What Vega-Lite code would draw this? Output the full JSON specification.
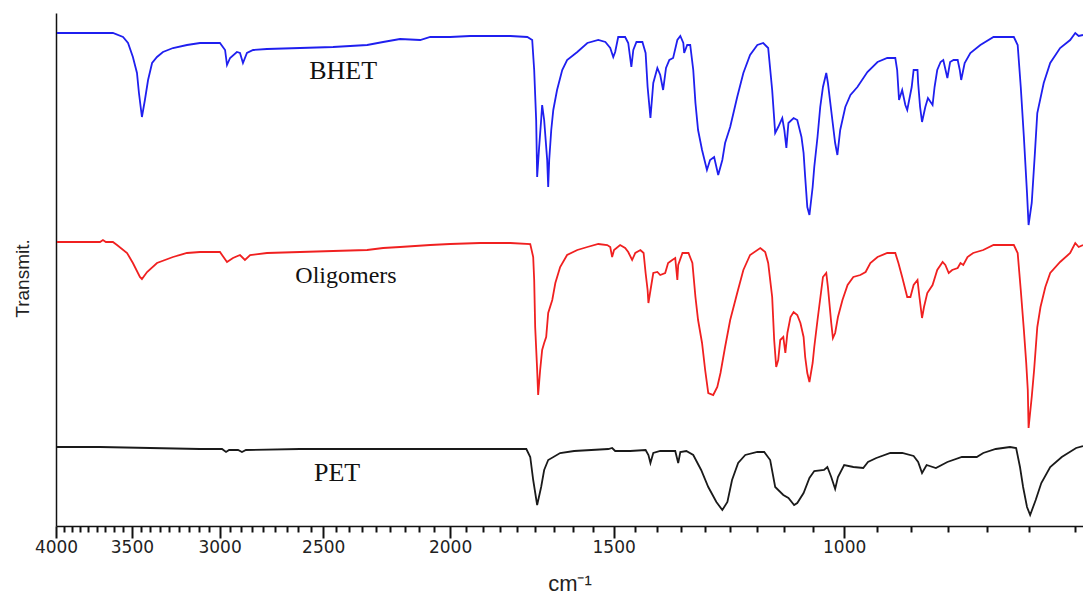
{
  "$schema": "https://vega.github.io/schema/vega-lite/v6.json",
  "width": 1027,
  "height": 513,
  "autosize": "none",
  "padding": {"left": 56, "top": 13, "right": 0, "bottom": 73},
  "background": "white",
  "config": {"view": {"stroke": null}},
  "datasets": {
    "spectra": [
      {"series":"BHET","wavenumber":3993,"transmittance":493},
      {"series":"BHET","wavenumber":3619,"transmittance":493},
      {"series":"BHET","wavenumber":3555,"transmittance":489},
      {"series":"BHET","wavenumber":3524,"transmittance":483},
      {"series":"BHET","wavenumber":3494,"transmittance":469},
      {"series":"BHET","wavenumber":3469,"transmittance":453},
      {"series":"BHET","wavenumber":3457,"transmittance":433},
      {"series":"BHET","wavenumber":3439,"transmittance":409},
      {"series":"BHET","wavenumber":3421,"transmittance":426},
      {"series":"BHET","wavenumber":3402,"transmittance":446},
      {"series":"BHET","wavenumber":3378,"transmittance":463},
      {"series":"BHET","wavenumber":3349,"transmittance":469},
      {"series":"BHET","wavenumber":3314,"transmittance":474},
      {"series":"BHET","wavenumber":3256,"transmittance":478},
      {"series":"BHET","wavenumber":3177,"transmittance":481},
      {"series":"BHET","wavenumber":3105,"transmittance":483},
      {"series":"BHET","wavenumber":2998,"transmittance":483},
      {"series":"BHET","wavenumber":2971,"transmittance":476},
      {"series":"BHET","wavenumber":2961,"transmittance":461},
      {"series":"BHET","wavenumber":2945,"transmittance":468},
      {"series":"BHET","wavenumber":2910,"transmittance":474},
      {"series":"BHET","wavenumber":2894,"transmittance":473},
      {"series":"BHET","wavenumber":2879,"transmittance":463},
      {"series":"BHET","wavenumber":2859,"transmittance":473},
      {"series":"BHET","wavenumber":2828,"transmittance":476},
      {"series":"BHET","wavenumber":2760,"transmittance":477},
      {"series":"BHET","wavenumber":2604,"transmittance":478},
      {"series":"BHET","wavenumber":2457,"transmittance":479},
      {"series":"BHET","wavenumber":2314,"transmittance":481},
      {"series":"BHET","wavenumber":2250,"transmittance":484},
      {"series":"BHET","wavenumber":2184,"transmittance":487},
      {"series":"BHET","wavenumber":2108,"transmittance":486},
      {"series":"BHET","wavenumber":2071,"transmittance":489},
      {"series":"BHET","wavenumber":2000,"transmittance":489},
      {"series":"BHET","wavenumber":1931,"transmittance":490},
      {"series":"BHET","wavenumber":1831,"transmittance":490},
      {"series":"BHET","wavenumber":1799,"transmittance":490},
      {"series":"BHET","wavenumber":1746,"transmittance":489},
      {"series":"BHET","wavenumber":1731,"transmittance":486},
      {"series":"BHET","wavenumber":1725,"transmittance":456},
      {"series":"BHET","wavenumber":1719,"transmittance":406},
      {"series":"BHET","wavenumber":1716,"transmittance":349},
      {"series":"BHET","wavenumber":1710,"transmittance":379},
      {"series":"BHET","wavenumber":1704,"transmittance":406},
      {"series":"BHET","wavenumber":1701,"transmittance":421},
      {"series":"BHET","wavenumber":1695,"transmittance":406},
      {"series":"BHET","wavenumber":1686,"transmittance":366},
      {"series":"BHET","wavenumber":1683,"transmittance":339},
      {"series":"BHET","wavenumber":1680,"transmittance":366},
      {"series":"BHET","wavenumber":1674,"transmittance":396},
      {"series":"BHET","wavenumber":1668,"transmittance":416},
      {"series":"BHET","wavenumber":1657,"transmittance":436},
      {"series":"BHET","wavenumber":1642,"transmittance":456},
      {"series":"BHET","wavenumber":1628,"transmittance":466},
      {"series":"BHET","wavenumber":1599,"transmittance":474},
      {"series":"BHET","wavenumber":1571,"transmittance":483},
      {"series":"BHET","wavenumber":1541,"transmittance":486},
      {"series":"BHET","wavenumber":1522,"transmittance":484},
      {"series":"BHET","wavenumber":1509,"transmittance":478},
      {"series":"BHET","wavenumber":1501,"transmittance":469},
      {"series":"BHET","wavenumber":1496,"transmittance":474},
      {"series":"BHET","wavenumber":1488,"transmittance":489},
      {"series":"BHET","wavenumber":1470,"transmittance":489},
      {"series":"BHET","wavenumber":1462,"transmittance":483},
      {"series":"BHET","wavenumber":1454,"transmittance":459},
      {"series":"BHET","wavenumber":1449,"transmittance":476},
      {"series":"BHET","wavenumber":1441,"transmittance":484},
      {"series":"BHET","wavenumber":1426,"transmittance":484},
      {"series":"BHET","wavenumber":1418,"transmittance":473},
      {"series":"BHET","wavenumber":1413,"transmittance":439},
      {"series":"BHET","wavenumber":1406,"transmittance":408},
      {"series":"BHET","wavenumber":1399,"transmittance":443},
      {"series":"BHET","wavenumber":1389,"transmittance":458},
      {"series":"BHET","wavenumber":1382,"transmittance":451},
      {"series":"BHET","wavenumber":1375,"transmittance":436},
      {"series":"BHET","wavenumber":1368,"transmittance":458},
      {"series":"BHET","wavenumber":1360,"transmittance":466},
      {"series":"BHET","wavenumber":1351,"transmittance":468},
      {"series":"BHET","wavenumber":1341,"transmittance":486},
      {"series":"BHET","wavenumber":1334,"transmittance":490},
      {"series":"BHET","wavenumber":1327,"transmittance":483},
      {"series":"BHET","wavenumber":1325,"transmittance":473},
      {"series":"BHET","wavenumber":1318,"transmittance":481},
      {"series":"BHET","wavenumber":1311,"transmittance":481},
      {"series":"BHET","wavenumber":1304,"transmittance":456},
      {"series":"BHET","wavenumber":1299,"transmittance":423},
      {"series":"BHET","wavenumber":1293,"transmittance":396},
      {"series":"BHET","wavenumber":1284,"transmittance":376},
      {"series":"BHET","wavenumber":1273,"transmittance":356},
      {"series":"BHET","wavenumber":1266,"transmittance":366},
      {"series":"BHET","wavenumber":1257,"transmittance":369},
      {"series":"BHET","wavenumber":1248,"transmittance":351},
      {"series":"BHET","wavenumber":1239,"transmittance":366},
      {"series":"BHET","wavenumber":1233,"transmittance":383},
      {"series":"BHET","wavenumber":1222,"transmittance":399},
      {"series":"BHET","wavenumber":1207,"transmittance":429},
      {"series":"BHET","wavenumber":1194,"transmittance":453},
      {"series":"BHET","wavenumber":1180,"transmittance":471},
      {"series":"BHET","wavenumber":1165,"transmittance":481},
      {"series":"BHET","wavenumber":1153,"transmittance":483},
      {"series":"BHET","wavenumber":1143,"transmittance":478},
      {"series":"BHET","wavenumber":1135,"transmittance":436},
      {"series":"BHET","wavenumber":1129,"transmittance":393},
      {"series":"BHET","wavenumber":1123,"transmittance":399},
      {"series":"BHET","wavenumber":1115,"transmittance":408},
      {"series":"BHET","wavenumber":1111,"transmittance":396},
      {"series":"BHET","wavenumber":1107,"transmittance":378},
      {"series":"BHET","wavenumber":1103,"transmittance":403},
      {"series":"BHET","wavenumber":1093,"transmittance":408},
      {"series":"BHET","wavenumber":1086,"transmittance":406},
      {"series":"BHET","wavenumber":1078,"transmittance":389},
      {"series":"BHET","wavenumber":1074,"transmittance":373},
      {"series":"BHET","wavenumber":1071,"transmittance":349},
      {"series":"BHET","wavenumber":1067,"transmittance":319},
      {"series":"BHET","wavenumber":1063,"transmittance":311},
      {"series":"BHET","wavenumber":1057,"transmittance":339},
      {"series":"BHET","wavenumber":1054,"transmittance":359},
      {"series":"BHET","wavenumber":1048,"transmittance":389},
      {"series":"BHET","wavenumber":1043,"transmittance":419},
      {"series":"BHET","wavenumber":1038,"transmittance":439},
      {"series":"BHET","wavenumber":1032,"transmittance":453},
      {"series":"BHET","wavenumber":1029,"transmittance":443},
      {"series":"BHET","wavenumber":1021,"transmittance":406},
      {"series":"BHET","wavenumber":1016,"transmittance":383},
      {"series":"BHET","wavenumber":1012,"transmittance":371},
      {"series":"BHET","wavenumber":1007,"transmittance":396},
      {"series":"BHET","wavenumber":998,"transmittance":419},
      {"series":"BHET","wavenumber":989,"transmittance":431},
      {"series":"BHET","wavenumber":977,"transmittance":439},
      {"series":"BHET","wavenumber":960,"transmittance":454},
      {"series":"BHET","wavenumber":943,"transmittance":464},
      {"series":"BHET","wavenumber":927,"transmittance":468},
      {"series":"BHET","wavenumber":914,"transmittance":468},
      {"series":"BHET","wavenumber":911,"transmittance":456},
      {"series":"BHET","wavenumber":908,"transmittance":426},
      {"series":"BHET","wavenumber":903,"transmittance":436},
      {"series":"BHET","wavenumber":898,"transmittance":421},
      {"series":"BHET","wavenumber":895,"transmittance":416},
      {"series":"BHET","wavenumber":888,"transmittance":439},
      {"series":"BHET","wavenumber":885,"transmittance":456},
      {"series":"BHET","wavenumber":879,"transmittance":456},
      {"series":"BHET","wavenumber":878,"transmittance":443},
      {"series":"BHET","wavenumber":875,"transmittance":419},
      {"series":"BHET","wavenumber":872,"transmittance":404},
      {"series":"BHET","wavenumber":867,"transmittance":419},
      {"series":"BHET","wavenumber":863,"transmittance":428},
      {"series":"BHET","wavenumber":856,"transmittance":421},
      {"series":"BHET","wavenumber":853,"transmittance":439},
      {"series":"BHET","wavenumber":849,"transmittance":456},
      {"series":"BHET","wavenumber":844,"transmittance":464},
      {"series":"BHET","wavenumber":840,"transmittance":466},
      {"series":"BHET","wavenumber":834,"transmittance":448},
      {"series":"BHET","wavenumber":830,"transmittance":464},
      {"series":"BHET","wavenumber":825,"transmittance":466},
      {"series":"BHET","wavenumber":819,"transmittance":466},
      {"series":"BHET","wavenumber":816,"transmittance":456},
      {"series":"BHET","wavenumber":814,"transmittance":446},
      {"series":"BHET","wavenumber":809,"transmittance":463},
      {"series":"BHET","wavenumber":801,"transmittance":473},
      {"series":"BHET","wavenumber":787,"transmittance":481},
      {"series":"BHET","wavenumber":769,"transmittance":489},
      {"series":"BHET","wavenumber":742,"transmittance":489},
      {"series":"BHET","wavenumber":737,"transmittance":481},
      {"series":"BHET","wavenumber":733,"transmittance":439},
      {"series":"BHET","wavenumber":729,"transmittance":389},
      {"series":"BHET","wavenumber":725,"transmittance":333},
      {"series":"BHET","wavenumber":723,"transmittance":301},
      {"series":"BHET","wavenumber":719,"transmittance":323},
      {"series":"BHET","wavenumber":715,"transmittance":373},
      {"series":"BHET","wavenumber":712,"transmittance":413},
      {"series":"BHET","wavenumber":704,"transmittance":443},
      {"series":"BHET","wavenumber":696,"transmittance":463},
      {"series":"BHET","wavenumber":684,"transmittance":478},
      {"series":"BHET","wavenumber":672,"transmittance":486},
      {"series":"BHET","wavenumber":666,"transmittance":493},
      {"series":"BHET","wavenumber":662,"transmittance":490},
      {"series":"BHET","wavenumber":657,"transmittance":491},

      {"series":"Oligomers","wavenumber":3993,"transmittance":284},
      {"series":"Oligomers","wavenumber":3702,"transmittance":284},
      {"series":"Oligomers","wavenumber":3683,"transmittance":286},
      {"series":"Oligomers","wavenumber":3664,"transmittance":284},
      {"series":"Oligomers","wavenumber":3619,"transmittance":284},
      {"series":"Oligomers","wavenumber":3593,"transmittance":281},
      {"series":"Oligomers","wavenumber":3530,"transmittance":273},
      {"series":"Oligomers","wavenumber":3494,"transmittance":263},
      {"series":"Oligomers","wavenumber":3451,"transmittance":249},
      {"series":"Oligomers","wavenumber":3439,"transmittance":247},
      {"series":"Oligomers","wavenumber":3408,"transmittance":254},
      {"series":"Oligomers","wavenumber":3349,"transmittance":263},
      {"series":"Oligomers","wavenumber":3256,"transmittance":269},
      {"series":"Oligomers","wavenumber":3177,"transmittance":273},
      {"series":"Oligomers","wavenumber":3105,"transmittance":274},
      {"series":"Oligomers","wavenumber":2998,"transmittance":274},
      {"series":"Oligomers","wavenumber":2961,"transmittance":264},
      {"series":"Oligomers","wavenumber":2930,"transmittance":268},
      {"series":"Oligomers","wavenumber":2894,"transmittance":271},
      {"series":"Oligomers","wavenumber":2869,"transmittance":266},
      {"series":"Oligomers","wavenumber":2843,"transmittance":271},
      {"series":"Oligomers","wavenumber":2760,"transmittance":273},
      {"series":"Oligomers","wavenumber":2604,"transmittance":274},
      {"series":"Oligomers","wavenumber":2457,"transmittance":275},
      {"series":"Oligomers","wavenumber":2314,"transmittance":276},
      {"series":"Oligomers","wavenumber":2250,"transmittance":278},
      {"series":"Oligomers","wavenumber":2184,"transmittance":279},
      {"series":"Oligomers","wavenumber":2071,"transmittance":281},
      {"series":"Oligomers","wavenumber":2000,"transmittance":282},
      {"series":"Oligomers","wavenumber":1897,"transmittance":283},
      {"series":"Oligomers","wavenumber":1799,"transmittance":283},
      {"series":"Oligomers","wavenumber":1737,"transmittance":282},
      {"series":"Oligomers","wavenumber":1728,"transmittance":269},
      {"series":"Oligomers","wavenumber":1725,"transmittance":246},
      {"series":"Oligomers","wavenumber":1722,"transmittance":199},
      {"series":"Oligomers","wavenumber":1716,"transmittance":156},
      {"series":"Oligomers","wavenumber":1713,"transmittance":131},
      {"series":"Oligomers","wavenumber":1707,"transmittance":156},
      {"series":"Oligomers","wavenumber":1701,"transmittance":176},
      {"series":"Oligomers","wavenumber":1695,"transmittance":183},
      {"series":"Oligomers","wavenumber":1689,"transmittance":189},
      {"series":"Oligomers","wavenumber":1683,"transmittance":213},
      {"series":"Oligomers","wavenumber":1671,"transmittance":226},
      {"series":"Oligomers","wavenumber":1662,"transmittance":243},
      {"series":"Oligomers","wavenumber":1648,"transmittance":259},
      {"series":"Oligomers","wavenumber":1628,"transmittance":271},
      {"series":"Oligomers","wavenumber":1599,"transmittance":276},
      {"series":"Oligomers","wavenumber":1571,"transmittance":279},
      {"series":"Oligomers","wavenumber":1541,"transmittance":282},
      {"series":"Oligomers","wavenumber":1517,"transmittance":281},
      {"series":"Oligomers","wavenumber":1509,"transmittance":279},
      {"series":"Oligomers","wavenumber":1504,"transmittance":269},
      {"series":"Oligomers","wavenumber":1499,"transmittance":276},
      {"series":"Oligomers","wavenumber":1483,"transmittance":281},
      {"series":"Oligomers","wavenumber":1470,"transmittance":278},
      {"series":"Oligomers","wavenumber":1462,"transmittance":274},
      {"series":"Oligomers","wavenumber":1452,"transmittance":266},
      {"series":"Oligomers","wavenumber":1444,"transmittance":273},
      {"series":"Oligomers","wavenumber":1431,"transmittance":276},
      {"series":"Oligomers","wavenumber":1423,"transmittance":273},
      {"series":"Oligomers","wavenumber":1418,"transmittance":253},
      {"series":"Oligomers","wavenumber":1413,"transmittance":236},
      {"series":"Oligomers","wavenumber":1411,"transmittance":223},
      {"series":"Oligomers","wavenumber":1403,"transmittance":243},
      {"series":"Oligomers","wavenumber":1399,"transmittance":253},
      {"series":"Oligomers","wavenumber":1389,"transmittance":254},
      {"series":"Oligomers","wavenumber":1382,"transmittance":251},
      {"series":"Oligomers","wavenumber":1370,"transmittance":253},
      {"series":"Oligomers","wavenumber":1363,"transmittance":263},
      {"series":"Oligomers","wavenumber":1353,"transmittance":266},
      {"series":"Oligomers","wavenumber":1346,"transmittance":268},
      {"series":"Oligomers","wavenumber":1341,"transmittance":246},
      {"series":"Oligomers","wavenumber":1339,"transmittance":261},
      {"series":"Oligomers","wavenumber":1329,"transmittance":273},
      {"series":"Oligomers","wavenumber":1315,"transmittance":273},
      {"series":"Oligomers","wavenumber":1306,"transmittance":263},
      {"series":"Oligomers","wavenumber":1299,"transmittance":229},
      {"series":"Oligomers","wavenumber":1293,"transmittance":206},
      {"series":"Oligomers","wavenumber":1284,"transmittance":183},
      {"series":"Oligomers","wavenumber":1277,"transmittance":156},
      {"series":"Oligomers","wavenumber":1270,"transmittance":133},
      {"series":"Oligomers","wavenumber":1259,"transmittance":131},
      {"series":"Oligomers","wavenumber":1250,"transmittance":139},
      {"series":"Oligomers","wavenumber":1243,"transmittance":153},
      {"series":"Oligomers","wavenumber":1233,"transmittance":179},
      {"series":"Oligomers","wavenumber":1222,"transmittance":206},
      {"series":"Oligomers","wavenumber":1207,"transmittance":233},
      {"series":"Oligomers","wavenumber":1194,"transmittance":256},
      {"series":"Oligomers","wavenumber":1180,"transmittance":271},
      {"series":"Oligomers","wavenumber":1159,"transmittance":278},
      {"series":"Oligomers","wavenumber":1149,"transmittance":274},
      {"series":"Oligomers","wavenumber":1143,"transmittance":263},
      {"series":"Oligomers","wavenumber":1135,"transmittance":229},
      {"series":"Oligomers","wavenumber":1131,"transmittance":186},
      {"series":"Oligomers","wavenumber":1127,"transmittance":159},
      {"series":"Oligomers","wavenumber":1123,"transmittance":166},
      {"series":"Oligomers","wavenumber":1119,"transmittance":186},
      {"series":"Oligomers","wavenumber":1113,"transmittance":189},
      {"series":"Oligomers","wavenumber":1109,"transmittance":173},
      {"series":"Oligomers","wavenumber":1105,"transmittance":193},
      {"series":"Oligomers","wavenumber":1099,"transmittance":209},
      {"series":"Oligomers","wavenumber":1093,"transmittance":214},
      {"series":"Oligomers","wavenumber":1086,"transmittance":211},
      {"series":"Oligomers","wavenumber":1080,"transmittance":203},
      {"series":"Oligomers","wavenumber":1074,"transmittance":189},
      {"series":"Oligomers","wavenumber":1071,"transmittance":169},
      {"series":"Oligomers","wavenumber":1067,"transmittance":153},
      {"series":"Oligomers","wavenumber":1063,"transmittance":144},
      {"series":"Oligomers","wavenumber":1057,"transmittance":163},
      {"series":"Oligomers","wavenumber":1054,"transmittance":179},
      {"series":"Oligomers","wavenumber":1048,"transmittance":206},
      {"series":"Oligomers","wavenumber":1041,"transmittance":236},
      {"series":"Oligomers","wavenumber":1038,"transmittance":249},
      {"series":"Oligomers","wavenumber":1032,"transmittance":253},
      {"series":"Oligomers","wavenumber":1029,"transmittance":239},
      {"series":"Oligomers","wavenumber":1023,"transmittance":203},
      {"series":"Oligomers","wavenumber":1020,"transmittance":188},
      {"series":"Oligomers","wavenumber":1016,"transmittance":193},
      {"series":"Oligomers","wavenumber":1011,"transmittance":209},
      {"series":"Oligomers","wavenumber":1003,"transmittance":226},
      {"series":"Oligomers","wavenumber":994,"transmittance":241},
      {"series":"Oligomers","wavenumber":984,"transmittance":249},
      {"series":"Oligomers","wavenumber":972,"transmittance":251},
      {"series":"Oligomers","wavenumber":963,"transmittance":254},
      {"series":"Oligomers","wavenumber":955,"transmittance":263},
      {"series":"Oligomers","wavenumber":943,"transmittance":269},
      {"series":"Oligomers","wavenumber":927,"transmittance":273},
      {"series":"Oligomers","wavenumber":914,"transmittance":273},
      {"series":"Oligomers","wavenumber":909,"transmittance":263},
      {"series":"Oligomers","wavenumber":903,"transmittance":249},
      {"series":"Oligomers","wavenumber":895,"transmittance":229},
      {"series":"Oligomers","wavenumber":890,"transmittance":229},
      {"series":"Oligomers","wavenumber":885,"transmittance":241},
      {"series":"Oligomers","wavenumber":879,"transmittance":246},
      {"series":"Oligomers","wavenumber":876,"transmittance":229},
      {"series":"Oligomers","wavenumber":872,"transmittance":208},
      {"series":"Oligomers","wavenumber":869,"transmittance":219},
      {"series":"Oligomers","wavenumber":864,"transmittance":233},
      {"series":"Oligomers","wavenumber":856,"transmittance":241},
      {"series":"Oligomers","wavenumber":849,"transmittance":256},
      {"series":"Oligomers","wavenumber":841,"transmittance":264},
      {"series":"Oligomers","wavenumber":837,"transmittance":261},
      {"series":"Oligomers","wavenumber":832,"transmittance":253},
      {"series":"Oligomers","wavenumber":827,"transmittance":256},
      {"series":"Oligomers","wavenumber":819,"transmittance":258},
      {"series":"Oligomers","wavenumber":815,"transmittance":263},
      {"series":"Oligomers","wavenumber":811,"transmittance":261},
      {"series":"Oligomers","wavenumber":805,"transmittance":269},
      {"series":"Oligomers","wavenumber":797,"transmittance":273},
      {"series":"Oligomers","wavenumber":783,"transmittance":276},
      {"series":"Oligomers","wavenumber":769,"transmittance":281},
      {"series":"Oligomers","wavenumber":742,"transmittance":281},
      {"series":"Oligomers","wavenumber":737,"transmittance":273},
      {"series":"Oligomers","wavenumber":733,"transmittance":236},
      {"series":"Oligomers","wavenumber":729,"transmittance":196},
      {"series":"Oligomers","wavenumber":726,"transmittance":163},
      {"series":"Oligomers","wavenumber":724,"transmittance":136},
      {"series":"Oligomers","wavenumber":723,"transmittance":98},
      {"series":"Oligomers","wavenumber":719,"transmittance":129},
      {"series":"Oligomers","wavenumber":716,"transmittance":156},
      {"series":"Oligomers","wavenumber":712,"transmittance":199},
      {"series":"Oligomers","wavenumber":708,"transmittance":219},
      {"series":"Oligomers","wavenumber":702,"transmittance":239},
      {"series":"Oligomers","wavenumber":696,"transmittance":253},
      {"series":"Oligomers","wavenumber":684,"transmittance":264},
      {"series":"Oligomers","wavenumber":672,"transmittance":273},
      {"series":"Oligomers","wavenumber":666,"transmittance":283},
      {"series":"Oligomers","wavenumber":662,"transmittance":279},
      {"series":"Oligomers","wavenumber":657,"transmittance":281},

      {"series":"PET","wavenumber":3993,"transmittance":79},
      {"series":"PET","wavenumber":3702,"transmittance":79},
      {"series":"PET","wavenumber":3390,"transmittance":78},
      {"series":"PET","wavenumber":3105,"transmittance":77},
      {"series":"PET","wavenumber":2987,"transmittance":77},
      {"series":"PET","wavenumber":2966,"transmittance":74},
      {"series":"PET","wavenumber":2950,"transmittance":76},
      {"series":"PET","wavenumber":2904,"transmittance":76},
      {"series":"PET","wavenumber":2884,"transmittance":74},
      {"series":"PET","wavenumber":2864,"transmittance":76},
      {"series":"PET","wavenumber":2604,"transmittance":77},
      {"series":"PET","wavenumber":2184,"transmittance":77},
      {"series":"PET","wavenumber":1831,"transmittance":77},
      {"series":"PET","wavenumber":1749,"transmittance":77},
      {"series":"PET","wavenumber":1737,"transmittance":69},
      {"series":"PET","wavenumber":1728,"transmittance":46},
      {"series":"PET","wavenumber":1716,"transmittance":21},
      {"series":"PET","wavenumber":1704,"transmittance":39},
      {"series":"PET","wavenumber":1695,"transmittance":56},
      {"series":"PET","wavenumber":1683,"transmittance":66},
      {"series":"PET","wavenumber":1648,"transmittance":73},
      {"series":"PET","wavenumber":1608,"transmittance":75},
      {"series":"PET","wavenumber":1514,"transmittance":77},
      {"series":"PET","wavenumber":1504,"transmittance":78},
      {"series":"PET","wavenumber":1496,"transmittance":75},
      {"series":"PET","wavenumber":1457,"transmittance":75},
      {"series":"PET","wavenumber":1418,"transmittance":76},
      {"series":"PET","wavenumber":1411,"transmittance":71},
      {"series":"PET","wavenumber":1406,"transmittance":63},
      {"series":"PET","wavenumber":1399,"transmittance":73},
      {"series":"PET","wavenumber":1382,"transmittance":75},
      {"series":"PET","wavenumber":1346,"transmittance":75},
      {"series":"PET","wavenumber":1339,"transmittance":63},
      {"series":"PET","wavenumber":1334,"transmittance":74},
      {"series":"PET","wavenumber":1320,"transmittance":75},
      {"series":"PET","wavenumber":1304,"transmittance":71},
      {"series":"PET","wavenumber":1286,"transmittance":56},
      {"series":"PET","wavenumber":1270,"transmittance":39},
      {"series":"PET","wavenumber":1252,"transmittance":24},
      {"series":"PET","wavenumber":1239,"transmittance":16},
      {"series":"PET","wavenumber":1228,"transmittance":24},
      {"series":"PET","wavenumber":1218,"transmittance":46},
      {"series":"PET","wavenumber":1205,"transmittance":63},
      {"series":"PET","wavenumber":1190,"transmittance":71},
      {"series":"PET","wavenumber":1165,"transmittance":74},
      {"series":"PET","wavenumber":1151,"transmittance":74},
      {"series":"PET","wavenumber":1139,"transmittance":66},
      {"series":"PET","wavenumber":1129,"transmittance":39},
      {"series":"PET","wavenumber":1113,"transmittance":31},
      {"series":"PET","wavenumber":1103,"transmittance":28},
      {"series":"PET","wavenumber":1092,"transmittance":21},
      {"series":"PET","wavenumber":1086,"transmittance":23},
      {"series":"PET","wavenumber":1074,"transmittance":33},
      {"series":"PET","wavenumber":1063,"transmittance":48},
      {"series":"PET","wavenumber":1054,"transmittance":55},
      {"series":"PET","wavenumber":1036,"transmittance":56},
      {"series":"PET","wavenumber":1030,"transmittance":59},
      {"series":"PET","wavenumber":1023,"transmittance":49},
      {"series":"PET","wavenumber":1016,"transmittance":37},
      {"series":"PET","wavenumber":1011,"transmittance":49},
      {"series":"PET","wavenumber":1000,"transmittance":61},
      {"series":"PET","wavenumber":984,"transmittance":59},
      {"series":"PET","wavenumber":967,"transmittance":58},
      {"series":"PET","wavenumber":959,"transmittance":64},
      {"series":"PET","wavenumber":945,"transmittance":68},
      {"series":"PET","wavenumber":922,"transmittance":73},
      {"series":"PET","wavenumber":903,"transmittance":73},
      {"series":"PET","wavenumber":885,"transmittance":70},
      {"series":"PET","wavenumber":878,"transmittance":64},
      {"series":"PET","wavenumber":872,"transmittance":53},
      {"series":"PET","wavenumber":865,"transmittance":61},
      {"series":"PET","wavenumber":851,"transmittance":58},
      {"series":"PET","wavenumber":834,"transmittance":64},
      {"series":"PET","wavenumber":813,"transmittance":69},
      {"series":"PET","wavenumber":792,"transmittance":69},
      {"series":"PET","wavenumber":783,"transmittance":73},
      {"series":"PET","wavenumber":766,"transmittance":77},
      {"series":"PET","wavenumber":747,"transmittance":79},
      {"series":"PET","wavenumber":739,"transmittance":78},
      {"series":"PET","wavenumber":734,"transmittance":59},
      {"series":"PET","wavenumber":730,"transmittance":39},
      {"series":"PET","wavenumber":725,"transmittance":19},
      {"series":"PET","wavenumber":721,"transmittance":11},
      {"series":"PET","wavenumber":714,"transmittance":26},
      {"series":"PET","wavenumber":707,"transmittance":43},
      {"series":"PET","wavenumber":696,"transmittance":59},
      {"series":"PET","wavenumber":682,"transmittance":69},
      {"series":"PET","wavenumber":665,"transmittance":78},
      {"series":"PET","wavenumber":657,"transmittance":80}
    ],
    "labels": [
      {"label":"BHET","wavenumber":2414,"transmittance":455},
      {"label":"Oligomers","wavenumber":2402,"transmittance":250},
      {"label":"PET","wavenumber":2440,"transmittance":53}
    ]
  },
  "encoding": {
    "x": {
      "field": "wavenumber",
      "type": "quantitative",
      "title": "cm⁻¹",
      "scale": {"type": "log", "domain": [657, 4000], "reverse": true, "nice": false, "zero": false},
      "axis": {
        "values": [4000,3944.4,3888.9,3833.3,3777.8,3722.2,3666.7,3611.1,3555.6,3500,3444.4,3388.9,3333.3,3277.8,3222.2,3166.7,3111.1,3055.6,3000,2944.4,2888.9,2833.3,2777.8,2722.2,2666.7,2611.1,2555.6,2500,2444.4,2388.9,2333.3,2277.8,2222.2,2166.7,2111.1,2055.6,2000,1944.4,1888.9,1833.3,1777.8,1722.2,1666.7,1611.1,1555.6,1500,1444.4,1388.9,1333.3,1277.8,1222.2,1166.7,1111.1,1055.6,1000,944.4,888.9,833.3,777.8,722.2,666.7],
        "tickCount": 100,
        "labelExpr": "datum.value % 500 === 0 ? format(datum.value, 'd') : ''",
        "tickSize": {"condition": {"test": "datum.value % 500 === 0", "value": 12}, "value": 6},
        "tickWidth": 2,
        "tickColor": "#111111",
        "labelOverlap": false,
        "labelFlush": false,
        "labelBound": false,
        "grid": false,
        "domainColor": "#111111",
        "domainWidth": 1.5,
        "labelFont": "DejaVu Sans",
        "labelFontSize": 17,
        "labelColor": "#222222",
        "labelPadding": 1,
        "titleFont": "Liberation Sans",
        "titleFontSize": 22,
        "titleFontWeight": "normal",
        "titleColor": "#222222",
        "titlePadding": 18
      }
    },
    "y": {
      "field": "transmittance",
      "type": "quantitative",
      "title": "Transmit.",
      "scale": {"domain": [0, 513], "nice": false, "zero": false},
      "axis": {
        "ticks": false,
        "labels": false,
        "grid": false,
        "domainColor": "#111111",
        "domainWidth": 1.5,
        "titleFont": "Liberation Sans",
        "titleFontSize": 19,
        "titleFontWeight": "normal",
        "titleColor": "#222222",
        "titlePadding": 24,
        "titleY": 265
      }
    }
  },
  "layer": [
    {
      "data": {"name": "spectra"},
      "mark": {"type": "line", "strokeWidth": 1.8},
      "encoding": {
        "color": {
          "field": "series",
          "type": "nominal",
          "scale": {"domain": ["BHET", "Oligomers", "PET"], "range": ["#1f1fef", "#f02020", "#1a1a1a"]},
          "legend": null
        }
      }
    },
    {
      "data": {"name": "labels"},
      "mark": {"type": "text", "font": "Liberation Serif", "color": "#111111", "align": "center", "baseline": "middle"},
      "encoding": {
        "text": {"field": "label", "type": "nominal"},
        "size": {"condition": {"test": "datum.label === 'Oligomers'", "value": 24}, "value": 26}
      }
    }
  ]
}
